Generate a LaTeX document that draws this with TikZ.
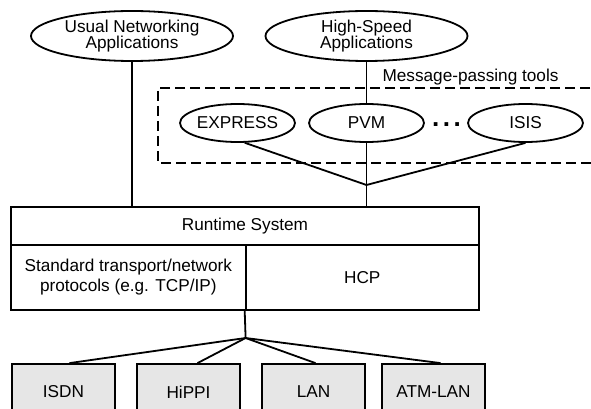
\documentclass[tikz,border=0pt]{standalone}
\usepackage{fontspec}
\setmainfont{Liberation Sans}
\usetikzlibrary{shapes.geometric}
\definecolor{netgray}{RGB}{230,230,230}
\newcommand{\lbl}{\fontsize{17.2}{16.7}\selectfont}
\tikzset{
  conn/.style={line width=1.8pt},
  app/.style={draw, ellipse, line width=1.8pt, minimum width=202pt, minimum height=50pt,
    inner sep=0pt, align=center, font=\lbl},
  tool/.style={draw, ellipse, line width=1.8pt, minimum width=115pt, minimum height=38pt,
    inner sep=0pt, font=\lbl},
  layer/.style={draw, rectangle, line width=1.8pt, inner sep=0pt, align=center, font=\lbl},
  net/.style={draw, rectangle, fill=netgray, line width=1.8pt, minimum width=103pt,
    minimum height=56pt, inner sep=0pt, font=\lbl},
  toolframe/.style={line width=1.8pt, dash pattern=on 10pt off 5pt},
}
\begin{document}
\begin{tikzpicture}[x=1pt, y=-1pt]
  \clip (0,0) rectangle (591,409);
  \fill[white] (0,0) rectangle (591,409);

  % applications
  \node[app] (usual) at (132,36) {Usual Networking\\Applications};
  \node[app] (highspeed) at (366.5,36) {High-Speed\\Applications};

  % message-passing tools
  \draw[toolframe] (620,88) -- (158,88) -- (158,163) -- (620,163);
  \node[font=\lbl, anchor=base] (mpt) at (470.5,82) {Message-passing tools};
  \node[tool] (express) at (237.5,123) {EXPRESS};
  \node[tool] (pvm) at (366.5,123) {PVM};
  \node[tool] (isis) at (525.5,123) {ISIS};
  \node[font={\fontsize{26}{26}\selectfont\bfseries}, anchor=base, inner sep=0pt] (dots) at (446.5,126) {.\kern3.6pt.\kern3.6pt.};
  \coordinate (j1) at (366.5,185);

  % runtime layers
  \node[layer, minimum width=468pt, minimum height=38pt] (runtime) at (245,226) {Runtime System};
  \node[layer, minimum width=234.6pt, minimum height=65pt] (stdproto) at (128.3,277.5)
    {Standard transport/network\\[3.3pt]protocols (e.g. TCP/IP)};
  \node[layer, minimum width=233.4pt, minimum height=65pt] (hcp) at (362.3,277.5) {HCP};
  \coordinate (j2) at (245.6,338);

  % networks
  \node[net] (isdn) at (63.5,392) {ISDN};
  \node[net] (hippi) at (188.5,392) {HiPPI};
  \node[net] (lan) at (313.5,392) {LAN};
  \node[net] (atm) at (433.5,392) {ATM-LAN};

  % connectors
  \draw[conn] (usual.south) -- (usual.south |- runtime.north);
  \draw[conn] (highspeed.south) -- (pvm.north);
  \draw[conn] (express.-70) -- (j1);
  \draw[conn] (pvm.south) -- (j1);
  \draw[conn] (isis.south) -- (j1);
  \draw[conn] (j1) -- (j1 |- runtime.north);
  \draw[conn] (hcp.south west) -- (j2);
  \draw[conn] (j2) -- ([xshift=6pt]isdn.north);
  \draw[conn] (j2) -- ([xshift=9pt]hippi.north);
  \draw[conn] (j2) -- ([xshift=2pt]lan.north);
  \draw[conn] (j2) -- ([xshift=7pt]atm.north);
\end{tikzpicture}
\end{document}
